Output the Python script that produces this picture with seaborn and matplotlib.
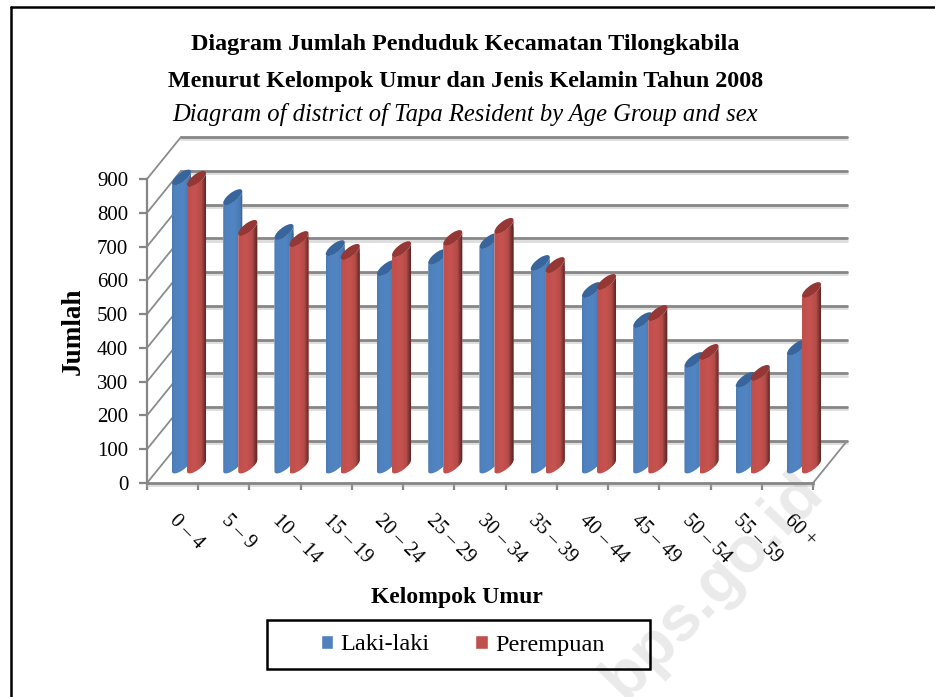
import numpy as np
import pandas as pd
import seaborn as sns
import matplotlib
matplotlib.use("Agg")
import matplotlib.pyplot as plt
import matplotlib.patheffects as pe
from matplotlib.colors import to_rgb
from matplotlib.lines import Line2D
from matplotlib.patches import Circle, Rectangle
from matplotlib.path import Path
from matplotlib.transforms import Affine2D, IdentityTransform

# ---- data ----
age_groups = ["0 – 4", "5 – 9", "10 – 14", "15 – 19", "20 – 24", "25 – 29", "30 – 34",
              "35 – 39", "40 – 44", "45 – 49", "50 – 54", "55 – 59", "60 +"]
laki = [852, 794, 691, 643, 584, 617, 664, 599, 519, 430, 312, 253, 348]
perempuan = [848, 703, 670, 632, 640, 673, 709, 593, 543, 451, 336, 274, 519]
series_names = ["Laki-laki", "Perempuan"]
y_ticks = [0, 100, 200, 300, 400, 500, 600, 700, 800, 900]
title_1 = "Diagram Jumlah Penduduk Kecamatan Tilongkabila"
title_2 = "Menurut Kelompok Umur dan Jenis Kelamin Tahun 2008"
title_3 = "Diagram of district of Tapa Resident by Age Group and sex"
x_label = "Kelompok Umur"
y_label = "Jumlah"
watermark = "o.bps.go.id"

# ---- style ----
W, H = 935, 697
BLUE, RED = "#4F81BD", "#C0504D"
BLUE_CAP, RED_CAP = "#38659B", "#953735"
GRID = "#868686"
SERIF = "Liberation Serif"
DEPTH = (34, 42)

sns.set_theme(style="white")
plt.rcParams["font.family"] = [SERIF, "DejaVu Sans"]

fig = plt.figure(figsize=(W / 100, H / 100), dpi=100, facecolor="white")


def rect(left, top, right, bottom):
    return [left / W, 1 - bottom / H, (right - left) / W, (bottom - top) / H]


shadow = [pe.SimpleLineShadow(offset=(0, -1.6), shadow_color="#aaaaaa", alpha=0.4), pe.Normal()]

# back wall
ax_back = fig.add_axes(rect(147 + DEPTH[0], 483 - DEPTH[1] - 304, 813 + DEPTH[0], 483 - DEPTH[1]), zorder=1)
ax_back.patch.set_alpha(0)
ax_back.set_ylim(0, 900)
ax_back.set_xticks([])
ax_back.set_yticks(y_ticks)
ax_back.tick_params(axis="y", length=0, labelleft=False)
ax_back.grid(axis="y", color=GRID, lw=2.0, clip_on=False)
for ln in ax_back.get_ygridlines():
    ln.set_path_effects(shadow)
for s in ax_back.spines.values():
    s.set_visible(False)

# front plane: axes, ticks and labels
ax = fig.add_axes(rect(147, 179, 813, 483), zorder=2)
ax.patch.set_alpha(0)
ax.set_xlim(-0.5, len(age_groups) - 0.5)
ax.set_ylim(0, 900)
ax.set_yticks(y_ticks)
ax.set_xticks(range(len(age_groups)))
ax.set_xticklabels(age_groups, rotation=-45, ha="left", va="center", rotation_mode="anchor", fontsize=14.5)
ax.set_xticks(np.arange(-0.5, len(age_groups)), minor=True)
ax.tick_params(axis="x", which="major", bottom=False, length=0, pad=25, labelcolor="black")
ax.tick_params(axis="x", which="minor", bottom=True, length=5, width=1.6, color=GRID)
ax.tick_params(axis="y", left=True, length=6, width=1.6, color=GRID, labelsize=15, pad=7.5, labelcolor="black")
ax.spines["top"].set_visible(False)
ax.spines["right"].set_visible(False)
ax.spines["left"].set_linewidth(1.6)
ax.spines["left"].set_color(GRID)
ax.spines["bottom"].set_linewidth(2.0)
ax.spines["bottom"].set_color(GRID)
ax.spines["bottom"].set_path_effects(shadow)

# depth lines joining front plane to back wall
fig.canvas.draw()
for v in y_ticks:
    px0 = ax.transData.transform((-0.5, v))
    fig.add_artist(Line2D([px0[0], px0[0] + DEPTH[0]], [px0[1], px0[1] + DEPTH[1]],
                          transform=IdentityTransform(), color="#8c8c8c", lw=1.3, zorder=1.5))
corner = ax.transData.transform((len(age_groups) - 0.5, 0))
fig.add_artist(Line2D([corner[0], corner[0] + DEPTH[0]], [corner[1], corner[1] + DEPTH[1]],
                      transform=IdentityTransform(), color="#8c8c8c", lw=1.3, zorder=1.5))

# bar plane: seaborn draws the bars
df = pd.DataFrame({
    "Kelompok Umur": age_groups * 2,
    "Jumlah": laki + perempuan,
    "Jenis Kelamin": [series_names[0]] * len(age_groups) + [series_names[1]] * len(age_groups),
})
bar_bottom_px = 465.5
px_per_unit = 33.8 / 100
ymin_b, ymax_b = -60, 1000
step = 51.25
ax_bars = fig.add_axes(rect(189 - 0.5 * step, bar_bottom_px - ymax_b * px_per_unit,
                            189 + 12.5 * step, bar_bottom_px - ymin_b * px_per_unit), zorder=3)
ax_bars.patch.set_alpha(0)
sns.barplot(data=df, x="Kelompok Umur", y="Jumlah", hue="Jenis Kelamin", order=age_groups,
            hue_order=series_names, palette=[BLUE, RED], width=0.742, saturation=1,
            errorbar=None, ax=ax_bars, legend=True)
handles, labels = ax_bars.get_legend_handles_labels()
ax_bars.get_legend().remove()
ax_bars.set_xlim(-0.5, len(age_groups) - 0.5)
ax_bars.set_ylim(ymin_b, ymax_b)
ax_bars.axis("off")


def gradient(base, stops):
    c = np.array(to_rgb(base))
    xs, fs = zip(*stops)
    f = np.interp(np.linspace(0, 1, 64), xs, fs)
    return np.clip(c[None, None, :] * f[None, :, None], 0, 1)


grad_blue = gradient(BLUE, [(0, .95), (.1, 1.0), (.55, 1.03), (.85, .95), (1, .7)])
grad_red = gradient(RED, [(0, 1.0), (.12, 1.0), (.4, 1.04), (.72, .94), (.88, .62), (1, .40)])

SHIFT = 2 / step  # bars overlap: red sits in front of blue
z = 10
tr_id = IdentityTransform()
bars = []
for i in range(len(age_groups)):
    for k in range(2):
        bars.append((ax_bars.containers[k][i], k))
for bar, k in bars:
    bar.set_x(bar.get_x() + (SHIFT if k == 0 else -SHIFT))
    x0, w, v = bar.get_x(), bar.get_width(), bar.get_height()
    (xl, yb), (xr, yt) = ax_bars.transData.transform([(x0, 0), (x0 + w, v)])
    cx, hw = (xl + xr) / 2, (xr - xl) / 2
    t1 = np.linspace(np.pi, 2 * np.pi, 40)
    t2 = t1[::-1]
    sl, sf = 5.8, 5.4
    base = np.c_[cx + hw * np.cos(t1), yb + sl * np.cos(t1) + sf * np.sin(t1)]
    top = np.c_[cx + hw * np.cos(t2), yt + sl * np.cos(t2) + sf * np.sin(t2)]
    clip = Path(np.vstack([base, top, base[:1]]))
    bar.set_zorder(z)
    bar.set_clip_path(clip, tr_id)
    im = ax_bars.imshow(grad_blue if k == 0 else grad_red, extent=(x0, x0 + w, ymin_b, v + 40),
                        aspect="auto", interpolation="bilinear", zorder=z + 0.1)
    im.set_clip_path(clip, tr_id)
    cap = Circle((0, 0), 1, transform=Affine2D([[hw, 0, cx], [sl, sf, yt], [0, 0, 1]]),
                 facecolor=BLUE_CAP if k == 0 else RED_CAP, edgecolor="none", zorder=z + 0.2)
    cap.set_clip_on(False)
    ax_bars.add_artist(cap)
    z += 1
ax_bars.set_xlim(-0.5, len(age_groups) - 0.5)
ax_bars.set_ylim(ymin_b, ymax_b)


def ftext(x, y, s, **kw):
    kw.setdefault("ha", "center")
    kw.setdefault("va", "center")
    return fig.text(x / W, 1 - y / H, s, color=kw.pop("color", "black"), **kw)


# titles and axis labels
ftext(465.5, 44.5, title_1, fontsize=17.4, fontweight="bold")
ftext(466, 82, title_2, fontsize=17.3, fontweight="bold")
ftext(465.5, 115, title_3, fontsize=17.7, fontstyle="italic")
ftext(457, 598, x_label, fontsize=17, fontweight="bold")
ftext(73, 331, y_label, fontsize=19.5, fontweight="bold", rotation=90)

# legend
leg = fig.legend(handles, labels, loc="center", bbox_to_anchor=(462.5 / W, 1 - 645 / H), ncols=2,
                 frameon=False, fontsize=17.5, labelcolor="black",
                 handlelength=0.5, handleheight=0.5, handletextpad=0.3, columnspacing=1.9,
                 borderpad=0.55, borderaxespad=0)
leg.set_zorder(5)
fig.add_artist(Rectangle((267, H - 669), 383, 49, transform=IdentityTransform(), facecolor="none",
                         edgecolor="black", lw=1.8, zorder=5))

# outer frame
fig.add_artist(Line2D([11, 11], [0, H - 6.5], transform=tr_id, color="black", lw=1.8))
fig.add_artist(Line2D([10.5, W], [H - 6.5, H - 6.5], transform=tr_id, color="black", lw=1.8))

# watermark
ftext(813, 483, watermark, fontsize=46.5, fontweight="bold", family="Liberation Sans",
      color="#eaeaea", rotation=46, ha="right", va="center", rotation_mode="anchor", zorder=-5)

fig.savefig("out.png", dpi=100)
